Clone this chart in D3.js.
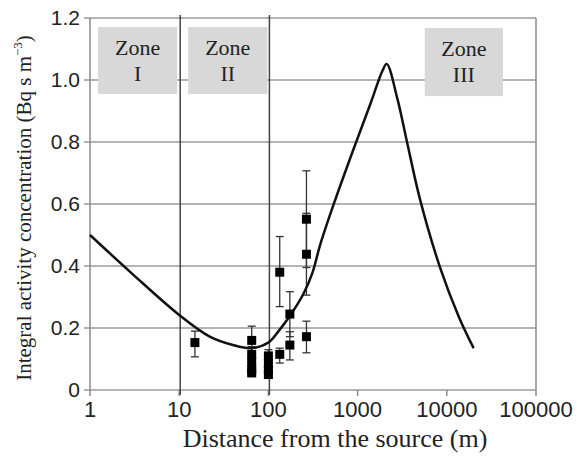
<!DOCTYPE html>
<html lang="en">
	<head>
		<meta charset="utf-8">
		<title>Integral activity concentration vs distance</title>
		<script type="text/javascript" src="https://cdn.jsdelivr.net/npm/d3@7"></script>
		<style type="text/css">
			body { margin: 0; background: #fff; }
		</style>
	</head>
	<body>
		<script type="text/javascript">

			//Width and height
			var w = 582;
			var h = 456;

			// model curve (distance m, concentration)
			var curveDist = [1, 3, 10, 22, 40, 65, 100, 130, 177, 249, 310, 384, 542, 908, 1400, 1900, 2120, 2790, 3550, 5010, 8410, 13700, 20000];
			var curveConc = [0.5, 0.374, 0.242, 0.172, 0.145, 0.135, 0.153, 0.19, 0.242, 0.312, 0.376, 0.472, 0.601, 0.78, 0.925, 1.03, 1.052, 0.94, 0.805, 0.615, 0.395, 0.235, 0.135];

			// measurements with error bars
			var obsDist = [15, 65, 65, 65, 65, 65, 100, 100, 100, 100, 134, 134, 174, 174, 267, 267, 267];
			var obsConc = [0.153, 0.16, 0.115, 0.09, 0.065, 0.055, 0.11, 0.085, 0.065, 0.05, 0.38, 0.115, 0.245, 0.145, 0.551, 0.438, 0.172];
			var obsLow  = [0.107, 0.115, 0.09, 0.07, 0.05, 0.045, 0.09, 0.07, 0.05, 0.04, 0.269, 0.087, 0.172, 0.097, 0.395, 0.306, 0.12];
			var obsHigh = [0.19, 0.206, 0.14, 0.11, 0.08, 0.065, 0.13, 0.1, 0.08, 0.06, 0.495, 0.135, 0.317, 0.188, 0.707, 0.57, 0.222];

			var xTicks = [1, 10, 100, 1000, 10000, 100000];
			var yTicks = [0, 0.2, 0.4, 0.6, 0.8, 1.0, 1.2];
			var zoneBounds = [10, 100];

			var zoneNames = [["Zone", "I"], ["Zone", "II"], ["Zone", "III"]];
			var zoneX0 = [1.23, 12.6, 5660];
			var zoneX1 = [9.5, 97.5, 42600];
			var zoneYTop = [1.171, 1.171, 1.168];
			var zoneYBot = [0.955, 0.955, 0.948];

			var xScale = d3.scaleLog()
							.domain([1, 100000])
							.range([90, 536]);

			var yScale = d3.scaleLinear()
							.domain([0, 1.2])
							.range([390, 18]);

			//Create SVG element
			var svg = d3.select("body")
						.append("svg")
						.attr("width", w)
						.attr("height", h);

			//Horizontal gridlines + left ticks
			svg.selectAll("line.hgrid")
			   .data(yTicks)
			   .enter()
			   .append("line")
			   .attr("class", "hgrid")
			   .attr("x1", 84)
			   .attr("x2", xScale(100000))
			   .attr("y1", function(d) { return yScale(d); })
			   .attr("y2", function(d) { return yScale(d); })
			   .attr("stroke", "#9a9a9a")
			   .attr("stroke-width", 1.5);

			//Right border
			svg.append("line")
			   .attr("x1", xScale(100000))
			   .attr("x2", xScale(100000))
			   .attr("y1", yScale(1.2))
			   .attr("y2", yScale(0))
			   .attr("stroke", "#8a8a8a")
			   .attr("stroke-width", 1.5);

			//Left axis line
			svg.append("line")
			   .attr("x1", xScale(1))
			   .attr("x2", xScale(1))
			   .attr("y1", yScale(1.2))
			   .attr("y2", yScale(0))
			   .attr("stroke", "#8a8a8a")
			   .attr("stroke-width", 1.5);

			//x ticks
			svg.selectAll("line.xtick")
			   .data(xTicks)
			   .enter()
			   .append("line")
			   .attr("class", "xtick")
			   .attr("x1", function(d) { return xScale(d); })
			   .attr("x2", function(d) { return xScale(d); })
			   .attr("y1", yScale(0))
			   .attr("y2", yScale(0) + 6)
			   .attr("stroke", "#8a8a8a")
			   .attr("stroke-width", 1.5);

			//Zone separators
			svg.selectAll("line.zone")
			   .data(zoneBounds)
			   .enter()
			   .append("line")
			   .attr("class", "zone")
			   .attr("x1", function(d) { return xScale(d) + 1; })
			   .attr("x2", function(d) { return xScale(d) + 1; })
			   .attr("y1", yScale(1.2) - 3)
			   .attr("y2", yScale(0) + 5)
			   .attr("stroke", "#444")
			   .attr("stroke-width", 1.5);

			//Zone boxes
			var zones = svg.selectAll("g.zonebox")
			   .data(zoneNames)
			   .enter()
			   .append("g")
			   .attr("class", "zonebox");

			zones.append("rect")
			   .attr("x", function(d, i) { return xScale(zoneX0[i]); })
			   .attr("y", function(d, i) { return yScale(zoneYTop[i]); })
			   .attr("width", function(d, i) { return xScale(zoneX1[i]) - xScale(zoneX0[i]); })
			   .attr("height", function(d, i) { return yScale(zoneYBot[i]) - yScale(zoneYTop[i]); })
			   .attr("fill", "#d8d8d8");

			zones.each(function(d, i) {
				var cx = (xScale(zoneX0[i]) + xScale(zoneX1[i])) / 2;
				var top = yScale(zoneYTop[i]);
				d3.select(this).selectAll("text")
				  .data(d)
				  .enter()
				  .append("text")
				  .text(function(t) { return t; })
				  .attr("x", cx)
				  .attr("y", function(t, j) { return top + 28 + j * 26; })
				  .attr("text-anchor", "middle")
				  .attr("font-family", "Liberation Serif, serif")
				  .attr("font-size", "22px")
				  .attr("fill", "#222");
			});

			//Error bars
			var eb = svg.selectAll("g.err")
			   .data(obsDist)
			   .enter()
			   .append("g")
			   .attr("class", "err")
			   .attr("stroke", "#333")
			   .attr("stroke-width", 1.3);

			eb.append("line")
			  .attr("x1", function(d) { return xScale(d); })
			  .attr("x2", function(d) { return xScale(d); })
			  .attr("y1", function(d, i) { return yScale(obsLow[i]); })
			  .attr("y2", function(d, i) { return yScale(obsHigh[i]); });

			eb.append("line")
			  .attr("x1", function(d) { return xScale(d) - 4; })
			  .attr("x2", function(d) { return xScale(d) + 4; })
			  .attr("y1", function(d, i) { return yScale(obsHigh[i]); })
			  .attr("y2", function(d, i) { return yScale(obsHigh[i]); });

			eb.append("line")
			  .attr("x1", function(d) { return xScale(d) - 4; })
			  .attr("x2", function(d) { return xScale(d) + 4; })
			  .attr("y1", function(d, i) { return yScale(obsLow[i]); })
			  .attr("y2", function(d, i) { return yScale(obsLow[i]); });

			//Model curve
			var line = d3.line()
						 .x(function(d) { return xScale(d); })
						 .y(function(d, i) { return yScale(curveConc[i]); })
						 .curve(d3.curveCatmullRom.alpha(0.5));

			svg.append("path")
			   .datum(curveDist)
			   .attr("d", line)
			   .attr("fill", "none")
			   .attr("stroke", "#111")
			   .attr("stroke-width", 2.5);

			//Markers
			svg.selectAll("rect.obs")
			   .data(obsDist)
			   .enter()
			   .append("rect")
			   .attr("class", "obs")
			   .attr("x", function(d) { return xScale(d) - 4.5; })
			   .attr("y", function(d, i) { return yScale(obsConc[i]) - 4.5; })
			   .attr("width", 9)
			   .attr("height", 9)
			   .attr("fill", "#000");

			//y tick labels
			svg.selectAll("text.ylab")
			   .data(yTicks)
			   .enter()
			   .append("text")
			   .attr("class", "ylab")
			   .text(function(d) { return d === 0 ? "0" : d3.format(".1f")(d); })
			   .attr("x", 80)
			   .attr("y", function(d) { return yScale(d) + 7; })
			   .attr("text-anchor", "end")
			   .attr("font-family", "Liberation Sans, Arial, sans-serif")
			   .attr("font-size", "21px")
			   .attr("fill", "#222");

			//x tick labels
			svg.selectAll("text.xlab")
			   .data(xTicks)
			   .enter()
			   .append("text")
			   .attr("class", "xlab")
			   .text(function(d) { return d; })
			   .attr("x", function(d) { return xScale(d); })
			   .attr("y", 417)
			   .attr("text-anchor", "middle")
			   .attr("font-family", "Liberation Sans, Arial, sans-serif")
			   .attr("font-size", "22px")
			   .attr("fill", "#222");

			//x title
			svg.append("text")
			   .text("Distance from the source (m)")
			   .attr("x", 335)
			   .attr("y", 447)
			   .attr("text-anchor", "middle")
			   .attr("font-family", "Liberation Serif, serif")
			   .attr("font-size", "26px")
			   .attr("fill", "#222");

			//y title
			var yt = svg.append("text")
			   .attr("transform", "translate(31,208) rotate(-90)")
			   .attr("text-anchor", "middle")
			   .attr("font-family", "Liberation Serif, serif")
			   .attr("font-size", "21px")
			   .attr("fill", "#222");
			yt.append("tspan").text("Integral activity concentration (Bq s m");
			yt.append("tspan").text("\u22123").attr("font-size", "13px").attr("dy", -9);
			yt.append("tspan").text(")").attr("dy", 9);

		</script>
	</body>
</html>
